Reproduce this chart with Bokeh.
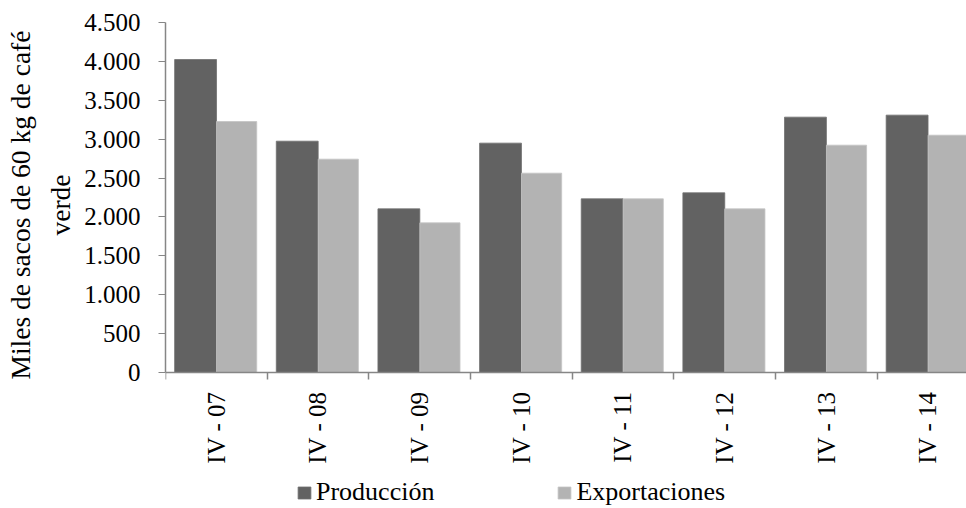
import math
import numpy as np
from bokeh.plotting import figure
from bokeh.models import (ColumnDataSource, FixedTicker, Range1d, Legend,
                          LegendItem, Title)
from bokeh.embed import file_html
from bokeh.resources import INLINE

# data
categories = ["IV - 07", "IV - 08", "IV - 09", "IV - 10", "IV - 11", "IV - 12", "IV - 13", "IV - 14"]
produccion = [4024, 2974, 2104, 2949, 2233, 2310, 3283, 3309]
exportaciones = [3227, 2743, 1924, 2563, 2233, 2104, 2923, 3051]
y_ticks = [0, 500, 1000, 1500, 2000, 2500, 3000, 3500, 4000, 4500]
y_labels = ["0", "500", "1.000", "1.500", "2.000", "2.500", "3.000", "3.500", "4.000", "4.500"]

FONT = "Liberation Serif"
AXIS_COLOR = "#868686"
DARK = "#626262"
LIGHT = "#b3b3b3"

idx = np.arange(len(categories))
source = ColumnDataSource(data=dict(
    prod_x=idx + 0.296,
    exp_x=idx + 0.700,
    produccion=produccion,
    exportaciones=exportaciones,
))

# the frame runs down past zero so that the rotated labels and the legend
# can live inside it (350 px per 4500 units)
p = figure(frame_width=803, frame_height=485,
           x_range=Range1d(0, 7.9), y_range=Range1d(-1736, 4500),
           output_backend="svg", toolbar_location=None,
           min_border_left=165, min_border_right=0, min_border_top=22,
           min_border_bottom=0)
p.outline_line_color = None
p.xgrid.grid_line_color = None
p.ygrid.grid_line_color = None

r1 = p.vbar(x="prod_x", top="produccion", bottom=0, width=0.412, source=source,
            fill_color=DARK, line_color="#707070", line_width=0.8)
r2 = p.vbar(x="exp_x", top="exportaciones", bottom=0, width=0.395, source=source,
            fill_color=LIGHT, line_color="#c4c4c4", line_width=0.8)

# y axis
p.yaxis.ticker = FixedTicker(ticks=y_ticks)
p.yaxis.bounds = (0, 4500)
p.yaxis.major_label_overrides = {t: l for t, l in zip(y_ticks, y_labels)}
p.yaxis.major_label_text_font = FONT
p.yaxis.major_label_text_font_size = "25px"
p.yaxis.major_label_text_color = "black"
p.yaxis.major_label_standoff = 18
p.yaxis.major_tick_out = 7
p.yaxis.major_tick_in = 0
p.yaxis.minor_tick_line_color = None
p.yaxis.axis_line_color = AXIS_COLOR
p.yaxis.major_tick_line_color = AXIS_COLOR
p.yaxis.axis_line_width = 1.5

# y axis title in two lines, kept beside the 0..4500 part of the axis
for text, offset, standoff in [("verde", 272, 12),
                               ("Miles de sacos de 60 kg de café", 128, 2)]:
    p.add_layout(Title(text=text, align="left", offset=offset,
                       text_font=FONT, text_font_size="27.5px",
                       text_font_style="normal", text_color="black",
                       standoff=standoff), "left")

# x axis sits at zero: labels at category centres, ticks on the boundaries
centres = [i + 0.5 for i in idx]
bounds = [float(i) for i in range(len(categories) + 1)]
p.xaxis.fixed_location = 0
p.xaxis.ticker = FixedTicker(ticks=centres, minor_ticks=bounds)
p.xaxis.major_label_overrides = {c: name for c, name in zip(centres, categories)}
p.xaxis.major_label_orientation = math.pi / 2
p.xaxis.major_label_text_font = FONT
p.xaxis.major_label_text_font_size = "25px"
p.xaxis.major_label_text_color = "black"
p.xaxis.major_label_standoff = 12
p.xaxis.major_tick_line_color = None
p.xaxis.minor_tick_out = 7
p.xaxis.minor_tick_in = 0
p.xaxis.minor_tick_line_color = AXIS_COLOR
p.xaxis.minor_tick_line_width = 1.5
p.xaxis.axis_line_color = AXIS_COLOR
p.xaxis.axis_line_width = 1.5

legend = Legend(items=[LegendItem(label="Producción", renderers=[r1]),
                       LegendItem(label="Exportaciones", renderers=[r2])],
                orientation="horizontal", location=(131, 0),
                label_text_font=FONT, label_text_font_size="26px",
                label_text_color="black", glyph_width=16, glyph_height=15,
                label_text_line_height=1.0, label_height=15,
                label_standoff=4, spacing=122, padding=0, margin=0,
                border_line_color=None, background_fill_alpha=0)
p.add_layout(legend)

open("out.html", "w").write(file_html(p, INLINE))
